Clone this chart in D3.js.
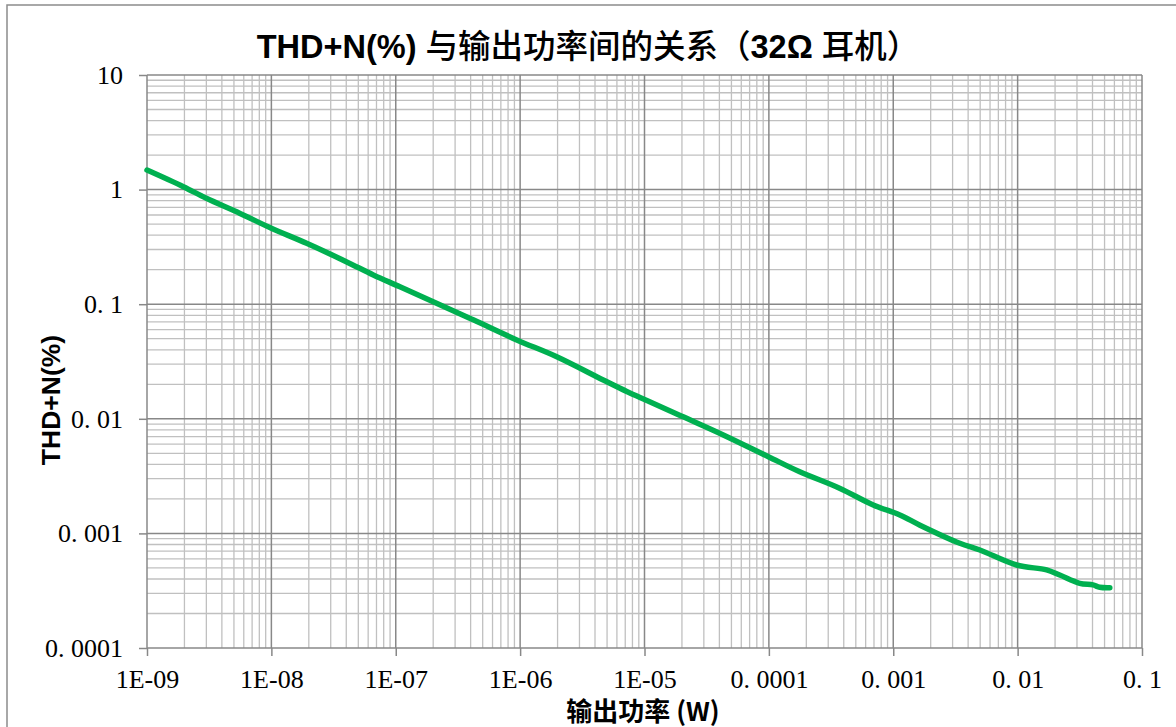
<html>
<head>
<meta charset="utf-8">
<script src="https://d3js.org/d3.v7.min.js"></script>
<style>
  body { margin: 0; background: #fff; }
  svg { display: block; }
</style>
</head>
<body>
<svg id="chart" width="1176" height="727"></svg>
<script>
// output power (W) and THD+N (%)
var power = [1e-9, 1.96e-9, 3.0e-9, 5.6e-9, 1e-8, 1.92e-8, 4.0e-8, 6.6e-8, 1.08e-7,
             2.0e-7, 4.2e-7, 9.4e-7, 1.97e-6, 4.66e-6, 7.2e-6, 1.1e-5, 2.05e-5, 4.3e-5,
             9.9e-5, 1.77e-4, 3.7e-4, 6.9e-4, 1.13e-3, 1.64e-3, 3.43e-3, 4.97e-3, 9.8e-3,
             0.0171, 0.0218, 0.0316, 0.0403, 0.0457, 0.0551];
var thd = [1.48, 1.06, 0.84, 0.62, 0.46, 0.34, 0.235, 0.18, 0.142,
           0.105, 0.073, 0.0488, 0.0348, 0.0218, 0.0173, 0.0141, 0.0104, 0.00723,
           0.00467, 0.00345, 0.00248, 0.00177, 0.00145, 0.00118, 0.00082, 0.000716, 0.00053,
           0.00048, 0.000433, 0.000367, 0.000355, 0.000339, 0.000336];

var xTicks = [1e-9, 1e-8, 1e-7, 1e-6, 1e-5, 1e-4, 1e-3, 1e-2, 1e-1];
var xLabels = ["1E-09", "1E-08", "1E-07", "1E-06", "1E-05", "0. 0001", "0. 001", "0. 01", "0. 1"];
var yTicks = [1e-4, 1e-3, 1e-2, 1e-1, 1, 10];
var yLabels = ["0. 0001", "0. 001", "0. 01", "0. 1", "1", "10"];

var svg = d3.select("#chart");
var pLeft = 147, pRight = 1142, pTop = 75, pBottom = 648;

var x = d3.scaleLog().domain([1e-9, 0.1]).range([pLeft, pRight]);
var y = d3.scaleLog().domain([1e-4, 10]).range([pBottom, pTop]);

// outer chart border
svg.append("rect")
  .attr("x", 7).attr("y", 5)
  .attr("width", 1200).attr("height", 800)
  .attr("fill", "none")
  .attr("stroke", "#8c8c8c")
  .attr("stroke-width", 1.5);

function isMajor(d) {
  var l = Math.log10(d);
  return Math.abs(l - Math.round(l)) < 1e-9;
}

var grid = svg.append("g");
var xMinor = x.ticks().filter(function(d) { return !isMajor(d); });
var yMinor = y.ticks().filter(function(d) { return !isMajor(d); });

grid.selectAll(".xm").data(xMinor).enter().append("line")
  .attr("x1", function(d) { return x(d); }).attr("x2", function(d) { return x(d); })
  .attr("y1", pTop).attr("y2", pBottom)
  .attr("stroke", "#c0c0c0").attr("stroke-width", 1.3);
grid.selectAll(".ym").data(yMinor).enter().append("line")
  .attr("y1", function(d) { return y(d); }).attr("y2", function(d) { return y(d); })
  .attr("x1", pLeft).attr("x2", pRight)
  .attr("stroke", "#c0c0c0").attr("stroke-width", 1.3);
grid.selectAll(".xM").data(xTicks).enter().append("line")
  .attr("x1", function(d) { return x(d); }).attr("x2", function(d) { return x(d); })
  .attr("y1", pTop).attr("y2", pBottom)
  .attr("stroke", "#888").attr("stroke-width", 1.5);
grid.selectAll(".yM").data(yTicks).enter().append("line")
  .attr("y1", function(d) { return y(d); }).attr("y2", function(d) { return y(d); })
  .attr("x1", pLeft).attr("x2", pRight)
  .attr("stroke", "#888").attr("stroke-width", 1.5);

// axes (ticks + labels only)
var xAxis = svg.append("g")
  .attr("transform", "translate(0," + pBottom + ")")
  .call(d3.axisBottom(x).tickValues(xTicks)
    .tickFormat(function(d, i) { return xLabels[i]; })
    .tickSize(8).tickPadding(14));
var yAxis = svg.append("g")
  .attr("transform", "translate(" + pLeft + ",0)")
  .call(d3.axisLeft(y).tickValues(yTicks)
    .tickFormat(function(d, i) { return yLabels[i]; })
    .tickSize(8).tickPadding(16));

[xAxis, yAxis].forEach(function(a) {
  a.select(".domain").remove();
  a.selectAll(".tick line").attr("stroke", "#888").attr("stroke-width", 1.5);
  a.selectAll(".tick text")
    .attr("fill", "#000")
    .style("font-family", "'Liberation Serif', 'DejaVu Serif', serif")
    .style("font-size", "26px");
});

// curve
var pts = power.map(function(p, i) { return [p, thd[i]]; });
svg.append("path")
  .datum(pts)
  .attr("fill", "none")
  .attr("stroke", "#00b050")
  .attr("stroke-width", 5.5)
  .attr("stroke-linecap", "round")
  .attr("stroke-linejoin", "round")
  .attr("d", d3.line()
    .x(function(d) { return x(d[0]); })
    .y(function(d) { return y(d[1]); })
    .curve(d3.curveCatmullRom));

// title
var title = svg.append("text")
  .attr("x", 588).attr("y", 58)
  .attr("text-anchor", "middle")
  .style("font-family", "'Liberation Sans', Arial, 'Noto Sans CJK SC', sans-serif")
  .style("font-size", "32.5px");
title.append("tspan").style("font-weight", "bold").text("THD+N(%) ");
title.append("tspan").style("font-family", "'Noto Sans CJK SC'").style("font-weight", 500).text("与输出功率间的关系（");
title.append("tspan").style("font-weight", "bold").text("32Ω ");
title.append("tspan").style("font-family", "'Noto Sans CJK SC'").style("font-weight", 500).text("耳机）");

// axis titles
svg.append("text")
  .attr("transform", "translate(60,400) rotate(-90)")
  .attr("text-anchor", "middle")
  .style("font-family", "'Liberation Sans', Arial, sans-serif")
  .style("font-weight", "bold")
  .style("font-size", "26.5px")
  .text("THD+N(%)");

svg.append("text")
  .attr("x", 643).attr("y", 721)
  .attr("text-anchor", "middle")
  .style("font-family", "'Noto Sans CJK SC', sans-serif")
  .style("font-weight", "bold")
  .style("font-size", "26px")
  .text("输出功率 (W)");
</script>
</body>
</html>
